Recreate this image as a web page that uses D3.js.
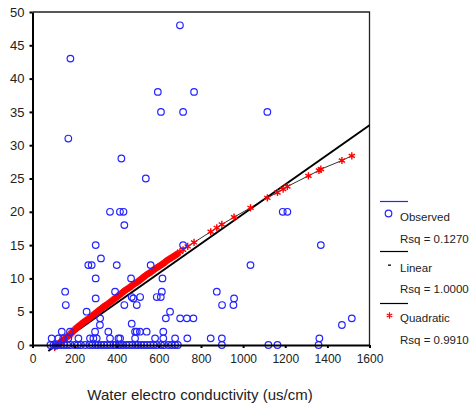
<!DOCTYPE html>
<html>
  <head>
    <meta charset="utf-8">
    <title>Curve fit</title>
    <style>
      body { margin: 0; background: white; }
      svg { display: block; }
      .axis text { font: 12px "Liberation Sans", Arial, sans-serif; fill: #222; }
      .y.axis text { font-size: 13px; }
      .axis path { stroke: #000; stroke-width: 2px; }
      .axis line { stroke: #000; stroke-width: 2px; }
      .legend text { font: 11.5px "Liberation Sans", Arial, sans-serif; fill: #222; }
      .title { font: 15px "Liberation Sans", Arial, sans-serif; fill: #222; }
    </style>
  </head>
  <body>
  <svg id="chart"></svg>
  <script src="https://d3js.org/d3.v7.min.js"></script>
  <script>

  // observed points (water electro conductivity vs value)
  var obsX = [85, 100, 110, 120, 135, 150, 165, 180, 200, 215, 230, 250, 270, 285, 300, 310, 325, 340, 355, 370,
              385, 395, 410, 420, 430, 445, 460, 475, 490, 500, 515, 530, 545, 560, 575, 590, 610, 625, 645, 661,
              677, 690, 899, 1120, 1163, 1358,
              91, 123, 146, 170, 218, 273, 289, 305, 368, 408, 416, 487, 582, 621, 677, 735, 846, 899, 1362,
              139, 178, 297, 360, 487, 495, 510, 542, 621,
              320, 471, 1469,
              321, 633, 701, 733, 764, 1516,
              257, 653,
              158, 436, 495, 900, 954,
              300, 471, 479, 511, 590, 609, 957,
              155, 392, 614, 875,
              300, 468, 617,
              265, 281, 400, 561, 1035,
              325,
              300, 715, 1369,
              436,
              368, 415, 432, 1188, 1210,
              538, 422, 170, 610, 715, 1115, 595, 767, 180, 700];
  var obsY = [0, 0, 0, 0, 0, 0, 0, 0, 0, 0, 0, 0, 0, 0, 0, 0, 0, 0, 0, 0,
              0, 0, 0, 0, 0, 0, 0, 0, 0, 0, 0, 0, 0, 0, 0, 0, 0, 0, 0, 0,
              0, 0, 0, 0, 0, 0,
              1, 1, 1, 1, 1, 1, 1, 1, 1, 1, 1, 1, 1, 1, 1, 1, 1, 1, 1,
              2, 2, 2, 2, 2, 2, 2, 2, 2,
              3, 3.2, 3,
              4, 4, 4, 4, 4, 4,
              5, 5,
              6, 6, 6, 6, 6,
              7, 7.2, 7, 7.2, 7.2, 7.2, 7,
              8, 8, 8, 8,
              10, 10, 10,
              12, 12, 12, 12, 12,
              13,
              15, 15, 15,
              18,
              20, 20, 20, 20, 20,
              25, 28, 31, 35, 35, 35, 38, 38, 43, 48];

  // quadratic fit (predicted values)
  var quadX = [105, 110, 115, 120, 125, 130, 135, 140, 145, 150, 155, 160, 165, 170, 175, 180, 185, 190, 195, 200,
               205, 210, 215, 220, 225, 230, 235, 240, 245, 250, 255, 260, 265, 270, 275, 280, 285, 290, 295, 300,
               305, 310, 315, 320, 325, 330, 335, 340, 345, 350, 355, 360, 365, 370, 375, 380, 385, 390, 395, 400,
               405, 410, 415, 420, 425, 430, 435, 440, 445, 450, 455, 460, 465, 470, 475, 480, 485, 490, 495, 500,
               505, 510, 515, 520, 525, 530, 535, 540, 545, 550, 555, 560, 565, 570, 575, 580, 585, 590, 595, 600,
               605, 610, 615, 620, 625, 630, 635, 640, 645, 650, 655, 660, 665, 670, 675, 680, 685, 690,
               700, 715, 737, 767, 846, 875, 899, 957, 1035, 1115, 1163, 1190, 1210, 1310, 1360, 1369, 1469, 1516];
  var quadY = [-0.35, -0.2, -0.05, 0.1, 0.22, 0.35, 0.48, 0.6, 0.7, 0.8, 0.95, 1.1, 1.22, 1.35, 1.48, 1.6, 1.8, 2.0, 2.15, 2.3,
               2.45, 2.6, 2.72, 2.85, 2.98, 3.1, 3.22, 3.35, 3.48, 3.6, 3.7, 3.8, 3.9, 4.0, 4.15, 4.3, 4.42, 4.55, 4.68, 4.8,
               4.92, 5.05, 5.18, 5.3, 5.42, 5.55, 5.68, 5.8, 5.9, 6.0, 6.1, 6.2, 6.32, 6.45, 6.58, 6.7, 6.82, 6.95, 7.08, 7.2,
               7.32, 7.45, 7.58, 7.7, 7.82, 7.95, 8.08, 8.2, 8.3, 8.4, 8.5, 8.6, 8.72, 8.85, 8.98, 9.1, 9.2, 9.3, 9.4, 9.5,
               9.62, 9.75, 9.88, 10.0, 10.12, 10.25, 10.38, 10.5, 10.6, 10.7, 10.8, 10.9, 11.02, 11.15, 11.28, 11.4, 11.5, 11.6, 11.7, 11.8,
               11.9, 12.0, 12.1, 12.2, 12.32, 12.45, 12.58, 12.7, 12.8, 12.9, 13.0, 13.1, 13.2, 13.3, 13.4, 13.5, 13.62, 13.75,
               14.0, 14.3, 14.8, 15.4, 17.0, 17.6, 18.1, 19.2, 20.6, 22.1, 22.9, 23.4, 23.8, 25.4, 26.2, 26.4, 27.7, 28.4];

  // linear fit end points
  var linX = [75, 1600];
  var linY = [-0.9, 33.0];

  var xTicks = [0, 200, 400, 600, 800, 1000, 1200, 1400, 1600];
  var yTicks = [0, 5, 10, 15, 20, 25, 30, 35, 40, 45, 50];

  var legendLabels = ["Observed", "Rsq = 0.1270", "Linear", "Rsq = 1.0000", "Quadratic", "Rsq = 0.9910"];

  var width = 472, height = 406;
  var plot = {left: 32.5, right: 369.5, top: 12, bottom: 345};
  var blue = "#2424ff", red = "#ff0000";

  var svg = d3.select("#chart").attr("width", width).attr("height", height);

  var x = d3.scaleLinear().domain([0, 1600]).range([plot.left, plot.right]);
  var y = d3.scaleLinear().domain([0, 50]).range([plot.bottom, plot.top]);

  // asterisk marker path, centered on 0,0
  function star(r) {
    var a = r * Math.cos(Math.PI / 6), b = r * Math.sin(Math.PI / 6);
    return "M0," + (-r) + "L0," + r +
      "M" + (-a) + "," + (-b) + "L" + a + "," + b +
      "M" + (-a) + "," + b + "L" + a + "," + (-b);
  }

  // frame: top and right borders
  svg.append("path")
    .attr("d", "M" + plot.left + "," + plot.top + "H" + plot.right + "V" + plot.bottom)
    .attr("fill", "none")
    .attr("stroke", "#222")
    .attr("stroke-width", 1.3);

  // quadratic connecting line
  var quadPts = quadX.map(function(d, i) { return [d, quadY[i]]; });
  svg.append("path")
    .datum(quadPts)
    .attr("fill", "none")
    .attr("stroke", "#000")
    .attr("stroke-width", 0.8)
    .attr("d", d3.line().x(function(d) { return x(d[0]); }).y(function(d) { return y(d[1]); }));

  // linear fit
  svg.append("line")
    .attr("x1", x(linX[0])).attr("y1", y(linY[0]))
    .attr("x2", x(linX[1])).attr("y2", y(linY[1]))
    .attr("stroke", "#000")
    .attr("stroke-width", 2);

  // quadratic stars
  svg.append("g").selectAll("path")
    .data(quadPts)
    .enter().append("path")
    .attr("transform", function(d) { return "translate(" + x(d[0]) + "," + y(d[1]) + ")"; })
    .attr("d", star(3.6))
    .attr("stroke", red)
    .attr("stroke-width", 1.4)
    .attr("fill", "none");

  // observed circles
  svg.append("g").selectAll("circle")
    .data(obsX.map(function(d, i) { return [d, obsY[i]]; }))
    .enter().append("circle")
    .attr("cx", function(d) { return x(d[0]); })
    .attr("cy", function(d) { return y(d[1]); })
    .attr("r", 3.3)
    .attr("fill", "none")
    .attr("stroke", blue)
    .attr("stroke-width", 1.2);

  // axes
  svg.append("g")
    .attr("class", "x axis")
    .attr("transform", "translate(0," + plot.bottom + ")")
    .call(d3.axisBottom(x).tickValues(xTicks).tickFormat(d3.format("d"))
      .tickSize(3).tickPadding(6).tickSizeOuter(0));

  svg.append("g")
    .attr("class", "y axis")
    .attr("transform", "translate(" + plot.left + ",0)")
    .call(d3.axisLeft(y).tickValues(yTicks).tickSize(3).tickPadding(5).tickSizeOuter(0));

  // x axis title
  svg.append("text")
    .attr("class", "title")
    .attr("x", 200)
    .attr("y", 400)
    .attr("text-anchor", "middle")
    .text("Water electro conductivity (us/cm)");

  // legend
  var legend = svg.append("g").attr("class", "legend");
  var lineY = [201.5, 251.5, 303.5];
  var lineCol = [blue, "#000", "#000"];
  lineY.forEach(function(ly, i) {
    legend.append("line")
      .attr("x1", 380).attr("x2", 408)
      .attr("y1", ly).attr("y2", ly)
      .attr("stroke", lineCol[i]).attr("stroke-width", 1.2);
  });
  legend.append("circle")
    .attr("cx", 388.5).attr("cy", 213.5).attr("r", 3.3)
    .attr("fill", "none").attr("stroke", blue).attr("stroke-width", 1.2);
  legend.append("rect")
    .attr("x", 388).attr("y", 264.5).attr("width", 3).attr("height", 1.3)
    .attr("fill", "#000");
  legend.append("path")
    .attr("transform", "translate(389.5,315.5)")
    .attr("d", star(3.2))
    .attr("stroke", red).attr("stroke-width", 1.2).attr("fill", "none");

  var textY = [221, 242.5, 272, 292.5, 322, 344];
  legend.selectAll("text")
    .data(legendLabels)
    .enter().append("text")
    .attr("x", 400)
    .attr("y", function(d, i) { return textY[i]; })
    .text(function(d) { return d; });

  </script>
  </body>
</html>
